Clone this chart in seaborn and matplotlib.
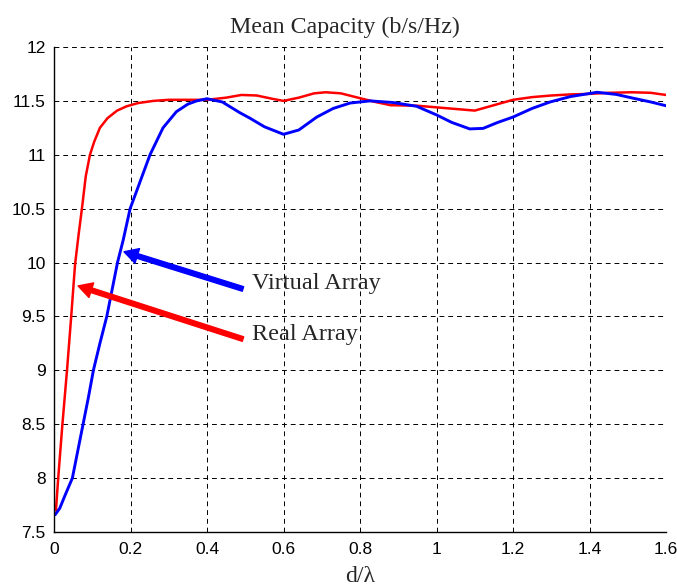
import matplotlib
matplotlib.use("Agg")
import matplotlib.pyplot as plt
import seaborn as sns
import pandas as pd

# ---- data ----
real_x = [0.005, 0.011, 0.022, 0.034, 0.045, 0.055, 0.064, 0.073, 0.083, 0.094, 0.105, 0.12,
          0.14, 0.165, 0.19, 0.22, 0.26, 0.30, 0.35, 0.40, 0.45, 0.49, 0.53, 0.57, 0.60, 0.64,
          0.68, 0.71, 0.75, 0.80, 0.84, 0.88, 0.95, 1.00, 1.05, 1.10, 1.15, 1.20, 1.25, 1.30,
          1.35, 1.40, 1.45, 1.51, 1.56, 1.60]
real_y = [7.70, 8.00, 8.50, 9.00, 9.50, 9.98, 10.25, 10.50, 10.80, 11.00, 11.12, 11.25,
          11.34, 11.41, 11.45, 11.48, 11.50, 11.51, 11.51, 11.51, 11.53, 11.555, 11.55, 11.52, 11.50, 11.53,
          11.57, 11.58, 11.57, 11.525, 11.49, 11.46, 11.455, 11.44, 11.425, 11.41, 11.46, 11.51, 11.535, 11.55,
          11.56, 11.565, 11.575, 11.58, 11.575, 11.555]

virt_x = [0.003, 0.015, 0.03, 0.048, 0.062, 0.076, 0.09, 0.103, 0.12, 0.138, 0.152, 0.166,
          0.181, 0.199, 0.225, 0.251, 0.285, 0.32, 0.35, 0.373, 0.40, 0.44, 0.486, 0.512,
          0.55, 0.60, 0.64, 0.687, 0.73, 0.774, 0.826, 0.886, 0.948, 1.00, 1.04, 1.087,
          1.122, 1.16, 1.20, 1.25, 1.297, 1.35, 1.42, 1.47, 1.514, 1.56, 1.60]
virt_y = [7.66, 7.72, 7.85, 8.00, 8.25, 8.50, 8.75, 9.00, 9.25, 9.50, 9.75, 10.00,
          10.21, 10.50, 10.75, 11.00, 11.25, 11.40, 11.47, 11.50, 11.52, 11.49, 11.39, 11.34,
          11.26, 11.19, 11.23, 11.35, 11.43, 11.48, 11.50, 11.485, 11.45, 11.37, 11.30, 11.24,
          11.245, 11.30, 11.35, 11.43, 11.49, 11.54, 11.58, 11.56, 11.525, 11.49, 11.455]

x_ticks = [0, 0.2, 0.4, 0.6, 0.8, 1.0, 1.2, 1.4, 1.6]
x_tick_labels = ["0", "0.2", "0.4", "0.6", "0.8", "1", "1.2", "1.4", "1.6"]
y_ticks = [7.5, 8, 8.5, 9, 9.5, 10, 10.5, 11, 11.5, 12]
y_tick_labels = ["7.5", "8", "8.5", "9", "9.5", "10", "10.5", "11", "11.5", "12"]

title = "Mean Capacity (b/s/Hz)"
xlabel = "d/\u03bb"
label_virtual = "Virtual Array"
label_real = "Real Array"
# arrow (tail, tip) in data coords
virt_arrow = ((0.494, 9.755), (0.183, 10.10))
real_arrow = ((0.494, 9.29), (0.063, 9.783))

sns.set_style("white")
plt.rcParams["font.family"] = ["Liberation Sans", "DejaVu Sans"]

fig = plt.figure(figsize=(6.77, 5.88), dpi=100)
ax = fig.add_axes([54 / 677, 1 - 532 / 588, 612 / 677, 485 / 588])

df_real = pd.DataFrame({"x": real_x, "y": real_y})
df_virt = pd.DataFrame({"x": virt_x, "y": virt_y})
sns.lineplot(data=df_real, x="x", y="y", ax=ax, color="#ff0000", linewidth=1.8,
             sort=False, estimator=None)
sns.lineplot(data=df_virt, x="x", y="y", ax=ax, color="#0000ff", linewidth=2.1,
             sort=False, estimator=None)

ax.set_xlim(0, 1.6)
ax.set_ylim(7.5, 12)
ax.set_xticks(x_ticks)
ax.set_xticklabels(x_tick_labels)
ax.set_yticks(y_ticks)
ax.set_yticklabels(y_tick_labels)
ax.tick_params(axis="both", direction="in", length=4, width=0.8, colors="black",
               labelsize=12.5, pad=6)
ax.tick_params(axis="x", pad=7)
ax.grid(True, color="black", linestyle=(0, (5, 4)), linewidth=0.7)
for s in ["top", "right"]:
    ax.spines[s].set_visible(False)
for s in ["left", "bottom"]:
    ax.spines[s].set_color("black")
    ax.spines[s].set_linewidth(1.0)

serif = ["Liberation Serif", "DejaVu Serif"]
fig.text(345 / 677, 1 - 33 / 588, title, family=serif, fontsize=17.2,
         ha="center", va="baseline")
ax.set_xlabel(xlabel, family=serif, fontsize=17, labelpad=7)
ax.set_ylabel("")

for (tail, tip), col in [(virt_arrow, "#0000ff"), (real_arrow, "#ff0000")]:
    ax.annotate("", xy=tip, xytext=tail,
                arrowprops=dict(facecolor=col, edgecolor=col, width=3.4,
                                headwidth=11, headlength=10, shrink=0))

ax.text(0.518, 9.81, label_virtual, family=serif, fontsize=17.5, va="center", ha="left")
ax.text(0.518, 9.33, label_real, family=serif, fontsize=17.5, va="center", ha="left")

fig.savefig("out.png", dpi=100)
